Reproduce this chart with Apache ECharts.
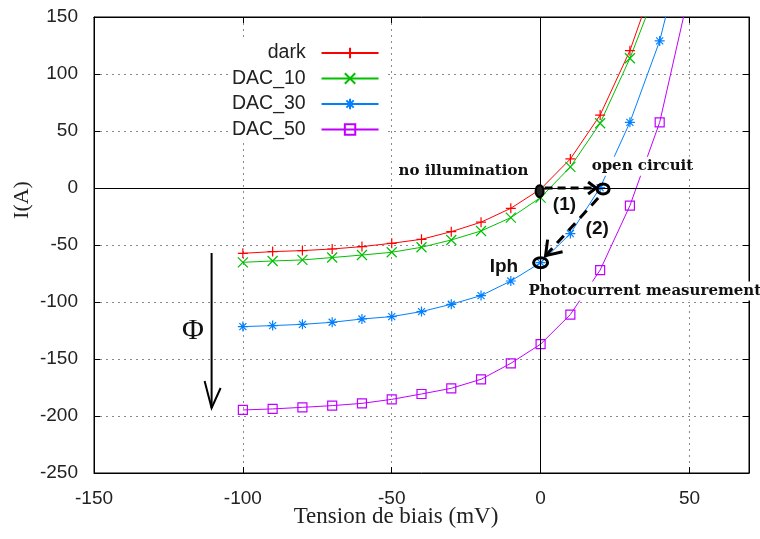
<!DOCTYPE html>
<html>
<head>
<meta charset="utf-8">
<script src="https://cdn.jsdelivr.net/npm/echarts@6/dist/echarts.min.js"></script>
<style>
html,body{margin:0;padding:0;background:#fff;}
#chart{width:760px;height:539px;}
</style>
</head>
<body>
<div id="chart"></div>
<script>
// ---- data ----
const seriesNames = ['dark', 'DAC_10', 'DAC_30', 'DAC_50'];
const biasShort = [-100, -90, -80, -70, -60, -50, -40, -30, -20, -10, 0, 10, 20, 30, 40];
const biasLong  = [-100, -90, -80, -70, -60, -50, -40, -30, -20, -10, 0, 10, 20, 30, 40, 50];
const darkValues  = [-57.3, -55.8, -54.9, -53.5, -51.4, -48.5, -45, -38.3, -30, -17.8, -1, 25.5, 64, 120.5, 195];
const dac10Values = [-65.2, -64, -63.1, -61, -58.8, -56.4, -52, -45.6, -37.7, -26, -8.4, 18.5, 56.8, 113.8, 181];
const dac30Values = [-121.6, -120.7, -119.6, -117.8, -114.9, -112.8, -108.4, -102, -94.4, -81.6, -65.5, -40, 0.3, 57.6, 129, 234];
const dac50Values = [-194.7, -193.8, -192.4, -190.9, -188.9, -185.4, -180.7, -175.7, -167.8, -153.8, -137, -111, -72, -15.5, 57.6, 173];
const xTicks = [-150, -100, -50, 0, 50];
const yTicks = [-250, -200, -150, -100, -50, 0, 50, 100, 150];

const colors = ['#ff0000', '#00c000', '#0080ff', '#c000ff'];
const symbols = [
  'path://M5,0L5,10M0,5L10,5',
  'path://M0,0L10,10M10,0L0,10',
  'path://M5,0L5,10M0,5L10,5M1.5,1.5L8.5,8.5M8.5,1.5L1.5,8.5',
  'path://M0,0L10,0L10,10L0,10Z'
];
const symSizes = [10, 10, 10, 9];

function pairs(xs, ys) { return ys.map((v, i) => [xs[i], v]); }
const allData = [
  pairs(biasShort, darkValues),
  pairs(biasShort, dac10Values),
  pairs(biasLong, dac30Values),
  pairs(biasLong, dac50Values)
];

const chart = echarts.init(document.getElementById('chart'), null, {renderer: 'canvas'});
const sans = 'Liberation Sans, Arial, sans-serif';
const serif = 'Liberation Serif, Times New Roman, serif';

const series = seriesNames.map((n, i) => ({
  name: n,
  type: 'line',
  xAxisIndex: 0, yAxisIndex: 0,
  data: allData[i],
  symbol: symbols[i],
  symbolSize: symSizes[i],
  showAllSymbol: true,
  clip: true,
  lineStyle: {color: colors[i], width: 1},
  itemStyle: {color: 'rgba(0,0,0,0)', borderColor: colors[i], borderWidth: 1.2},
  emphasis: {disabled: true},
  animation: false,
  z: 3
}));
series.push({
  type: 'line', data: [], xAxisIndex: 0, yAxisIndex: 0, silent: true,
  markLine: {
    silent: true, symbol: ['none', 'none'], animation: false,
    label: {show: false},
    lineStyle: {color: '#000', width: 1, type: 'solid'},
    emphasis: {disabled: true},
    data: [{xAxis: 0}, {yAxis: 0}]
  }
});

const gridLine = {show: true, lineStyle: {color: '#8a8a8a', width: 1, type: [2, 4]}};
const option = {
  animation: false,
  backgroundColor: '#fff',
  color: colors,
  grid: {left: 94, right: 11, top: 17, bottom: 66, show: true, borderColor: '#000', borderWidth: 1, backgroundColor: 'transparent'},
  legend: {
    orient: 'vertical', left: 232, top: 37, align: 'right',
    itemWidth: 57, itemHeight: 13, itemGap: 5.5,
    backgroundColor: '#fff', padding: [6, 5, 3, 0],
    data: seriesNames,
    formatter: n => n + '  ',
    textStyle: {fontFamily: sans, fontSize: 19.5, color: '#222', width: 86},
    selectedMode: false
  },
  xAxis: [{
    type: 'value', min: xTicks[0], max: 70, interval: 50,
    axisLine: {show: true, onZero: false, lineStyle: {color: '#000'}},
    axisTick: {show: true, inside: true, length: 6, lineStyle: {color: '#000'}},
    axisLabel: {fontFamily: sans, fontSize: 19, color: '#222', margin: 16, showMaxLabel: false},
    splitLine: gridLine
  }, {
    type: 'value', position: 'top', min: xTicks[0], max: 70, interval: 50,
    axisLine: {show: true, onZero: false, lineStyle: {color: '#000'}},
    axisTick: {show: true, inside: true, length: 6, lineStyle: {color: '#000'}},
    axisLabel: {show: false}, splitLine: {show: false}
  }],
  yAxis: [{
    type: 'value', min: yTicks[0], max: yTicks[yTicks.length - 1], interval: 50,
    axisLine: {show: true, onZero: false, lineStyle: {color: '#000'}},
    axisTick: {show: true, inside: true, length: 6, lineStyle: {color: '#000'}},
    axisLabel: {fontFamily: sans, fontSize: 19, color: '#222', margin: 16},
    splitLine: gridLine
  }, {
    type: 'value', position: 'right', min: yTicks[0], max: yTicks[yTicks.length - 1], interval: 50,
    axisLine: {show: true, onZero: false, lineStyle: {color: '#000'}},
    axisTick: {show: true, inside: true, length: 6, lineStyle: {color: '#000'}},
    axisLabel: {show: false}, splitLine: {show: false}
  }],
  series: series
};
chart.setOption(option);

// ---- annotations placed from data coordinates ----
const P = (x, y) => chart.convertToPixel({gridIndex: 0}, [x, y]);
const annFont = 'bold 15px "DejaVu Serif", serif';
function label(text, dx, dy, font, extra) {
  const p = P(dx, dy);
  return Object.assign({
    type: 'text', x: p[0], y: p[1], z: 50,
    style: {text: text, font: font, fill: '#111', align: 'center', verticalAlign: 'middle',
            backgroundColor: '#fff', padding: [2, 2, 2, 2]}
  }, extra || {});
}
const phiTop = P(-110.5, -57), phiTip = P(-110.5, -193);
const dark0 = P(0, -1), oc = P(21, 0), iph = P(0, -65.5);
const a1start = [dark0[0] + 4, oc[1]], a1tip = [oc[0] - 7, oc[1]];
const a2start = [oc[0] - 5, oc[1] + 10], a2tip = [iph[0] + 5, iph[1] - 7];
const blk = {stroke: '#000', fill: null, lineWidth: 3};
chart.setOption({
  graphic: {elements: [
    {type: 'text', x: 396, y: 517, z: 50, style: {text: 'Tension de biais (mV)', font: '23px ' + serif, fill: '#222', align: 'center', verticalAlign: 'middle'}},
    {type: 'text', x: 22, y: 200, rotation: Math.PI / 2, z: 50, style: {text: 'I(A)', font: '22px ' + serif, fill: '#222', align: 'center', verticalAlign: 'middle'}},
    // Phi arrow
    {type: 'line', z: 50, shape: {x1: phiTop[0], y1: phiTop[1], x2: phiTip[0], y2: phiTip[1]}, style: {stroke: '#000', lineWidth: 2}},
    {type: 'polyline', z: 50, shape: {points: [[phiTip[0] - 7, phiTip[1] - 27], phiTip, [phiTip[0] + 9, phiTip[1] - 20]]}, style: {stroke: '#000', fill: null, lineWidth: 2}},
    label('Φ', -116.8, -125.7, '30px ' + serif, {style: {text: 'Φ', font: '30px ' + serif, fill: '#111', align: 'center', verticalAlign: 'middle'}}),
    label('no illumination', -25.9, 14.9, annFont),
    label('open circuit', 34.2, 19, annFont),
    label('Photocurrent measurement', 35, -90.4, annFont),
    label('Iph', -12.3, -68.7, 'bold 19px ' + sans, {style: {text: 'Iph', font: 'bold 19px ' + sans, fill: '#111', align: 'center', verticalAlign: 'middle'}}),
    label('(1)', 8.0, -14.3, 'bold 19px ' + sans, {style: {text: '(1)', font: 'bold 19px ' + sans, fill: '#111', align: 'center', verticalAlign: 'middle'}}),
    label('(2)', 19, -35.4, 'bold 19px ' + sans, {style: {text: '(2)', font: 'bold 19px ' + sans, fill: '#111', align: 'center', verticalAlign: 'middle'}}),
    // arrow (1)
    {type: 'line', z: 50, shape: {x1: a1start[0], y1: a1start[1], x2: a1tip[0], y2: a1tip[1]}, style: {stroke: '#000', lineWidth: 3, lineDash: [8, 5]}},
    {type: 'polyline', z: 50, shape: {points: [[a1tip[0] - 8, a1tip[1] - 6], a1tip, [a1tip[0] - 8, a1tip[1] + 6]]}, style: blk},
    {type: 'ellipse', z: 51, shape: {cx: oc[0], cy: oc[1] + 1, rx: 6, ry: 5}, style: {stroke: '#000', fill: null, lineWidth: 3}},
    {type: 'ellipse', z: 51, shape: {cx: dark0[0] - 1, cy: dark0[1] + 2, rx: 4, ry: 6}, style: {stroke: '#000', fill: '#222', lineWidth: 2}},
    // arrow (2)
    {type: 'line', z: 50, shape: {x1: a2start[0], y1: a2start[1], x2: a2tip[0], y2: a2tip[1]}, style: {stroke: '#000', lineWidth: 3, lineDash: [10, 7]}},
    {type: 'polyline', z: 50, shape: {points: [[a2tip[0] + 2, a2tip[1] - 16], a2tip, [a2tip[0] + 17, a2tip[1] - 4]]}, style: blk},
    {type: 'ellipse', z: 51, shape: {cx: iph[0], cy: iph[1], rx: 7, ry: 5}, style: {stroke: '#000', fill: null, lineWidth: 3}}
  ]}
});
</script>
</body>
</html>
